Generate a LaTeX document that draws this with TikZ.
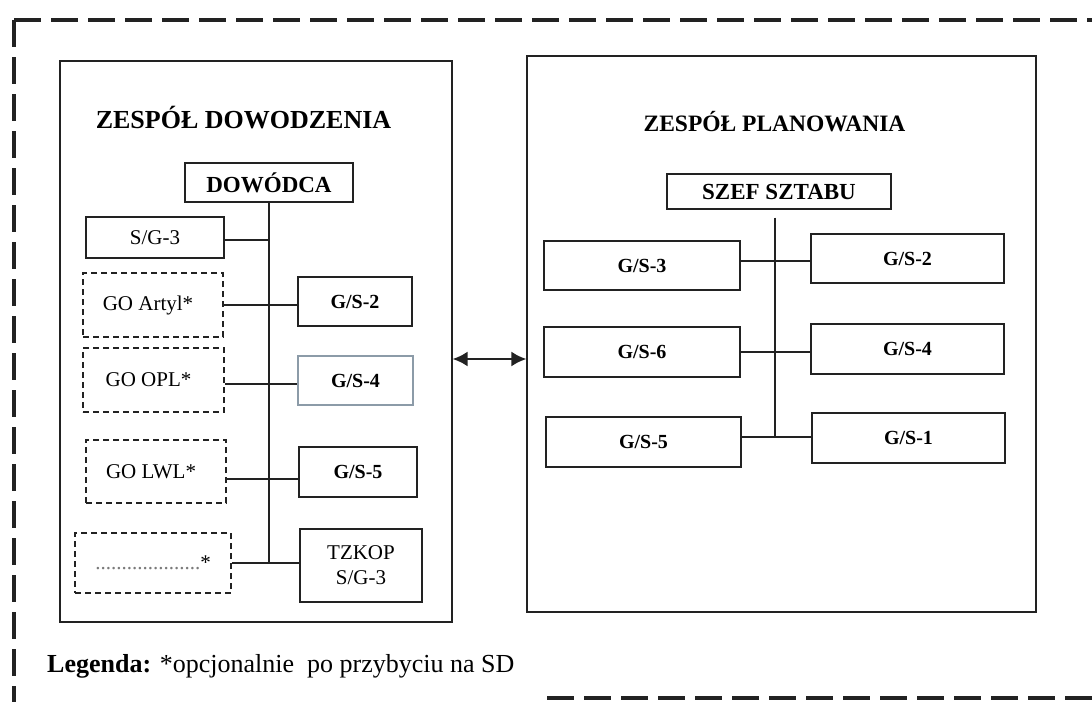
\documentclass[tikz,border=0pt]{standalone}
\usepackage{fontspec}
\setmainfont{Liberation Serif}
\usetikzlibrary{arrows.meta,positioning,calc}
\definecolor{ink}{HTML}{222222}
\definecolor{paleedge}{HTML}{8C9BA8}

\begin{document}
\begin{tikzpicture}[
  x=1pt,y=-1pt,
  frame/.style={rectangle,draw=ink,line width=1.2pt,inner sep=0pt},
  unit/.style={rectangle,draw=ink,line width=1.3pt,inner sep=0pt,align=center,
               font=\fontsize{21}{25}\selectfont},
  staff/.style={unit,font=\fontsize{20}{24}\selectfont\bfseries},
  head/.style={unit,font=\fontsize{23}{27}\selectfont\bfseries},
  opt/.style={unit,dash pattern=on 6pt off 4pt,line width=1.6pt},
  title/.style={inner sep=0pt,font=\fontsize{26}{30}\selectfont\bfseries},
  link/.style={draw=ink,line width=1.3pt},
  border/.style={draw=ink,line width=3.4pt,dash pattern=on 27pt off 10pt},
  biarr/.style={{Latex[length=15pt,width=15pt]}-{Latex[length=15pt,width=15pt]},
                draw=ink,line width=2.2pt}
]
  \fill[white] (0,0) rectangle (1092,702);
  \useasboundingbox (0,0) rectangle (1092,702);

  % outer frame
  \draw[border] (14,20) -- (1092,20);
  \draw[border] (14,20) -- (14,702);
  \draw[border] (547,698) -- (1092,698);

  % two teams
  \node[frame,minimum width=392pt,minimum height=561pt] (zd) at (256,341.5) {};
  \node[frame,minimum width=509pt,minimum height=556pt] (zp) at (781.5,334) {};
  \node[title] (zdt) at (243.5,118) {ZESPÓŁ DOWODZENIA};
  \node[title,font=\fontsize{23.5}{28}\selectfont\bfseries] (zpt) at (774.5,122) {ZESPÓŁ PLANOWANIA};

  % command team
  \node[head,minimum width=168pt,minimum height=39pt] (dow) at (269,182.5) {DOWÓDCA};
  \node[unit,minimum width=138pt,minimum height=41pt] (sg3) at (155,237.5) {S/G-3};
  \node[opt,minimum width=140pt,minimum height=64pt] (artyl) at (153,305) {GO Artyl*\hspace{10pt}};
  \node[staff,minimum width=114pt,minimum height=49pt] (gs2) at (355,301.5) {G/S-2};
  \node[opt,minimum width=141pt,minimum height=64pt] (opl) at (153.5,380) {GO OPL*\hspace{10pt}};
  \node[staff,draw=paleedge,minimum width=115pt,minimum height=49pt] (gs4) at (355.5,380.5) {G/S-4};
  \node[opt,minimum width=140pt,minimum height=63pt] (lwl) at (156,471.5) {GO LWL*\hspace{10pt}};
  \node[staff,minimum width=118pt,minimum height=50pt] (gs5) at (358,472) {G/S-5};
  \node[opt,minimum width=156pt,minimum height=60pt] (etc) at (153,563) {{\color{ink!60}....................}*};
  \node[unit,minimum width=122pt,minimum height=73pt] (tzkop) at (361,565.5) {TZKOP\\S/G-3};

  \coordinate (dowend) at (dow.south |- etc.east);
  \draw[link] (dow.south) -- (dowend);
  \draw[link] ([yshift=-2.5pt]sg3.east) -- ([yshift=-2.5pt]sg3.east -| dow.south);
  \draw[link] (artyl.east) -- (artyl.east -| gs2.west);
  \draw[link] ([yshift=-4pt]opl.east) -- ([yshift=-4pt]opl.east -| gs4.west);
  \draw[link] ([yshift=-7.5pt]lwl.east) -- ([yshift=-7.5pt]lwl.east -| gs5.west);
  \draw[link] (etc.east) -- (tzkop.west |- etc.east);

  % planning team
  \node[head,minimum width=224pt,minimum height=35pt] (szef) at (779,191.5) {SZEF SZTABU};
  \node[staff,minimum width=196pt,minimum height=49pt] (r3) at (642,265.5) {G/S-3};
  \node[staff,minimum width=193pt,minimum height=49pt] (r2) at (907.5,258.5) {G/S-2};
  \node[staff,minimum width=196pt,minimum height=50pt] (r6) at (642,352) {G/S-6};
  \node[staff,minimum width=193pt,minimum height=50pt] (r4) at (907.5,349) {G/S-4};
  \node[staff,minimum width=195pt,minimum height=50pt] (r5) at (643.5,442) {G/S-5};
  \node[staff,minimum width=193pt,minimum height=50pt] (r1) at (908.5,438) {G/S-1};

  \coordinate (sztop) at ([xshift=-4pt,yshift=-8pt]szef.south);
  \coordinate (r5a) at ([yshift=5pt]r5.east);
  \draw[link] (sztop) -- (sztop |- r5a);
  \draw[link] ([yshift=4.5pt]r3.east) -- ([yshift=4.5pt]r3.east -| r2.west);
  \draw[link] (r6.east) -- (r6.east -| r4.west);
  \draw[link] (r5a) -- (r5a -| r1.west);

  % link between teams
  \draw[biarr] ([yshift=-17.5pt]zd.east) -- ([yshift=-17.5pt]zd.east -| zp.west);

  \node[anchor=base west,inner sep=0pt,font=\fontsize{26}{30}\selectfont] (leg) at (47,672)
    {\textbf{Legenda:} *opcjonalnie\ \ po przybyciu na SD};
\end{tikzpicture}
\end{document}
